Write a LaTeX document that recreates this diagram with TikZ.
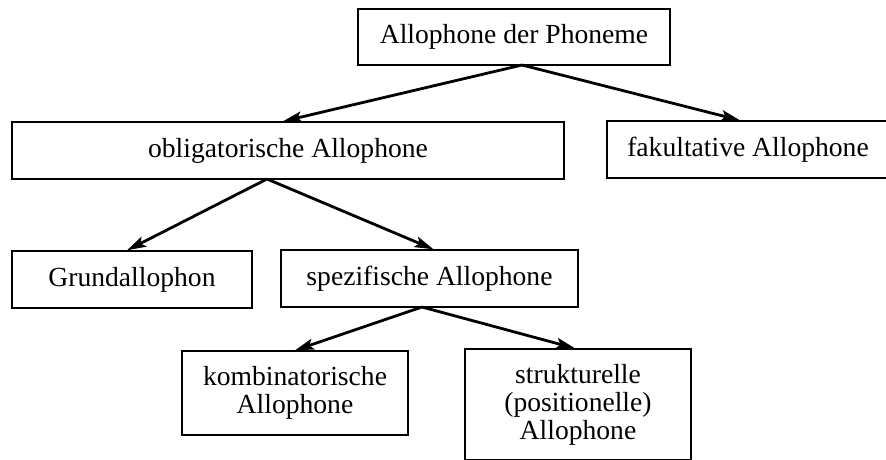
\documentclass[tikz,border=0pt]{standalone}
\usepackage{fontspec}
\setmainfont{Liberation Serif}
\usetikzlibrary{arrows.meta}
\begin{document}
\begin{tikzpicture}[x=1pt,y=-1pt,
  box/.style={draw, line width=1.4pt, inner sep=0pt, align=center,
    font=\fontsize{27.6}{28}\selectfont},
  arr/.style={line width=2.8pt, -{Stealth[length=19pt,width=11pt,inset=4pt]}}]
\useasboundingbox (0,0) rectangle (886,459);

% boxes
\node[box, minimum width=312pt, minimum height=56pt] (root) at (514,37) {Allophone der Phoneme};
\node[box, minimum width=552pt, minimum height=57pt] (obl) at (288,150.5) {obligatorische Allophone};
\node[box, minimum width=282pt, minimum height=57pt] (fak) at (748,149.5) {fakultative Allophone};
\node[box, minimum width=240pt, minimum height=57pt] (grund) at (132,279.5) {Grundallophon};
\node[box, minimum width=297pt, minimum height=57pt] (spez) at (429.5,278.5) {spezifische Allophone};
\node[box, minimum width=226pt, minimum height=84pt] (komb) at (295,393) {kombinatorische\\Allophone};
\node[box, minimum width=226pt, minimum height=111pt] (struk) at (578,404.5) {strukturelle\\(positionelle)\\Allophone};

% branching points on the lower edges
\coordinate (rootout) at (522,65);
\coordinate (oblout) at (267,179);
\coordinate (spezout) at (422,307);

% connectors
\draw[arr] (rootout) -- ([xshift=-5pt]obl.north);
\draw[arr] (rootout) -- ([xshift=-8pt]fak.north);
\draw[arr] (oblout) -- ([xshift=-5pt]grund.north);
\draw[arr] (oblout) -- ([xshift=4pt]spez.north);
\draw[arr] (spezout) -- (komb.north);
\draw[arr] (spezout) -- ([xshift=-3pt]struk.north);
\end{tikzpicture}
\end{document}
